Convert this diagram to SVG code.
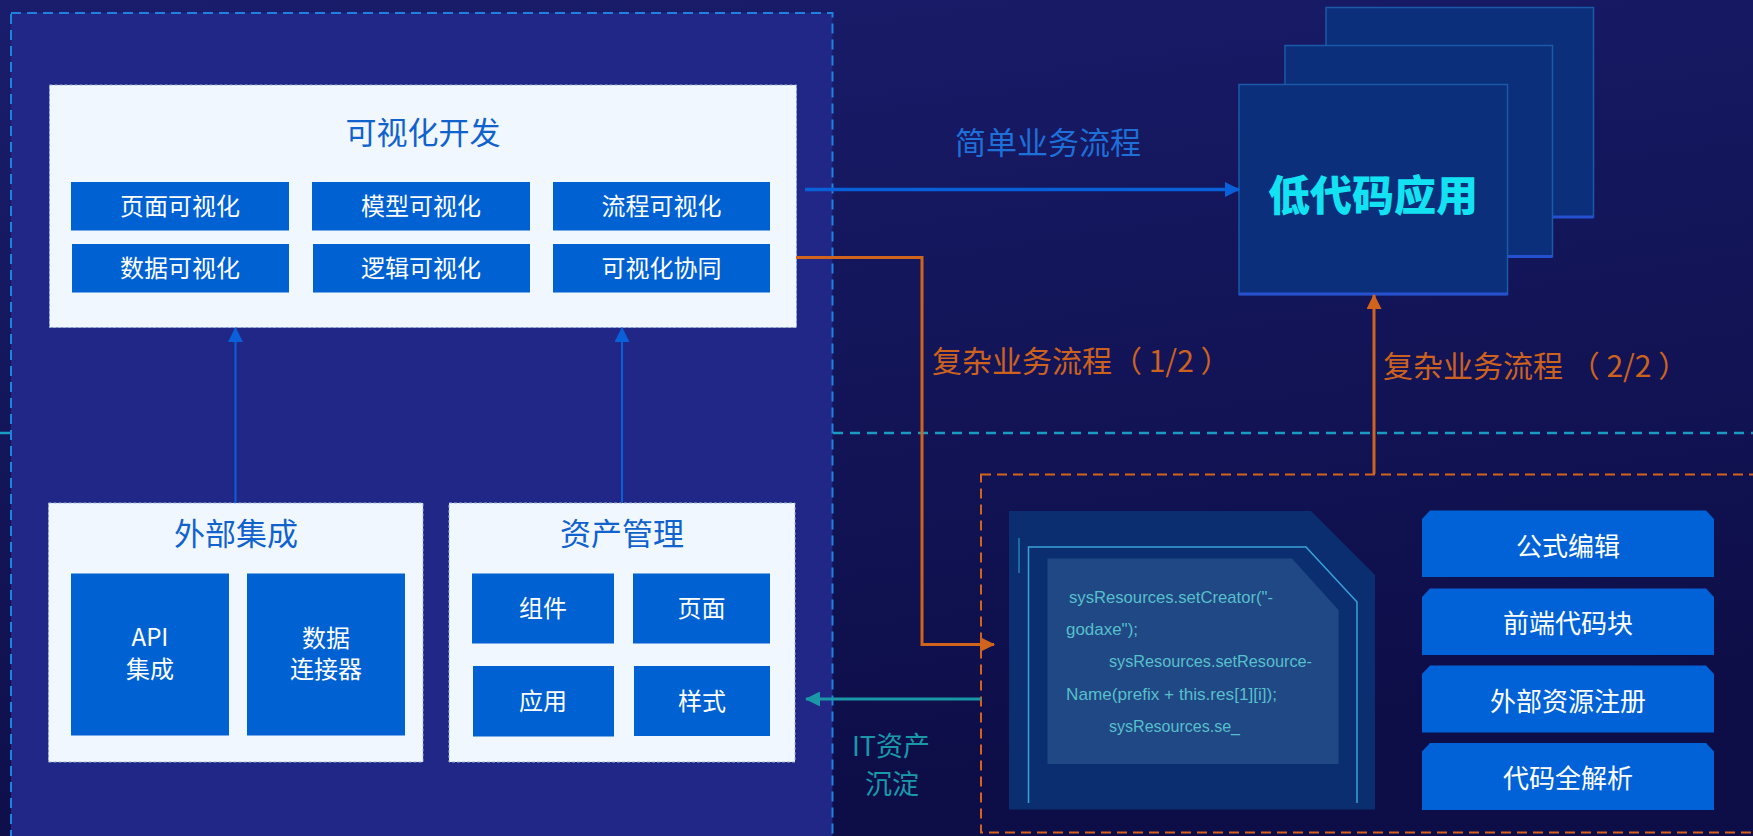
<svg xmlns="http://www.w3.org/2000/svg" width="1753" height="836" viewBox="0 0 1753 836">
<defs>
<linearGradient id="bg" x1="0" y1="0" x2="0.3" y2="1">
<stop offset="0" stop-color="#1a1d6c"/>
<stop offset="1" stop-color="#0d0e48"/>
</linearGradient>
<marker id="ahBlue" markerWidth="10" markerHeight="10" refX="9" refY="5" orient="auto" markerUnits="userSpaceOnUse" viewBox="0 0 10 10">
<path d="M0,0 L10,5 L0,10 z" fill="#0a60d8"/>
</marker>
<marker id="ahBlue2" markerWidth="15" markerHeight="15" refX="14" refY="7.5" orient="auto" markerUnits="userSpaceOnUse" viewBox="0 0 15 15">
<path d="M0,0 L15,7.5 L0,15 z" fill="#0a60d8"/>
</marker>
<marker id="ahOrange" markerWidth="15" markerHeight="15" refX="14" refY="7.5" orient="auto" markerUnits="userSpaceOnUse" viewBox="0 0 15 15">
<path d="M0,0 L15,7.5 L0,15 z" fill="#d0641c"/>
</marker>
<marker id="ahTeal" markerWidth="15" markerHeight="15" refX="14" refY="7.5" orient="auto" markerUnits="userSpaceOnUse" viewBox="0 0 15 15">
<path d="M0,0 L15,7.5 L0,15 z" fill="#1b98a8"/>
</marker>
</defs>
<style>
.cjk{font-family:"Noto Sans CJK SC","Liberation Sans",sans-serif;}
.panel{fill:#f1f7fe;stroke:#9db4d8;stroke-width:1;stroke-dasharray:3 2;}
.btn{fill:#0062d2;}
.btxt{fill:#ffffff;font-size:24px;text-anchor:middle;}
.ttl{fill:#1062cc;font-size:31px;text-anchor:middle;}
.card{fill:#0b2f7b;stroke:#1a5aa8;stroke-width:1.5;}
.cardb{stroke:#2550d0;stroke-width:3;}
.rbtn{fill:#0062d6;}
.rtxt{fill:#ffffff;font-size:26px;text-anchor:middle;}
.code{fill:#58bfcc;font-family:"Liberation Sans",sans-serif;font-size:17px;}
.otxt{fill:#cc621e;font-size:30px;}
</style>
<rect x="0" y="0" width="1753" height="836" fill="url(#bg)"/>
<line x1="0" y1="433" x2="1753" y2="433" stroke="#1a9cc2" stroke-width="2.5" stroke-dasharray="10 7"/>

<g id="platform">
<rect x="11" y="13" width="821.5" height="840" fill="#202787" stroke="#1e82de" stroke-width="2" stroke-dasharray="10 6"/>
</g>

<g id="visual-dev">
<rect class="panel" x="49.5" y="85" width="747" height="242.5"/>
<text class="cjk ttl" x="423" y="144">可视化开发</text>
<rect class="btn" x="71" y="182" width="218" height="48.5"/>
<rect class="btn" x="312" y="182" width="218" height="48.5"/>
<rect class="btn" x="553" y="182" width="217" height="48.5"/>
<rect class="btn" x="72" y="244" width="217" height="48.5"/>
<rect class="btn" x="313" y="244" width="217" height="48.5"/>
<rect class="btn" x="553" y="244" width="217" height="48.5"/>
<text class="cjk btxt" x="180" y="215">页面可视化</text>
<text class="cjk btxt" x="421" y="215">模型可视化</text>
<text class="cjk btxt" x="661.5" y="215">流程可视化</text>
<text class="cjk btxt" x="180" y="277">数据可视化</text>
<text class="cjk btxt" x="421" y="277">逻辑可视化</text>
<text class="cjk btxt" x="661.5" y="277">可视化协同</text>
</g>

<g id="ext-integration">
<rect class="panel" x="48.5" y="503" width="374.5" height="259"/>
<text class="cjk ttl" x="236" y="545">外部集成</text>
<rect class="btn" x="71" y="573.5" width="158" height="162"/>
<rect class="btn" x="247" y="573.5" width="158" height="162"/>
<text class="cjk btxt" x="150" y="646">API</text>
<text class="cjk btxt" x="150" y="678">集成</text>
<text class="cjk btxt" x="326" y="647">数据</text>
<text class="cjk btxt" x="326" y="678">连接器</text>
</g>

<g id="asset-mgmt">
<rect class="panel" x="449" y="503" width="346" height="259"/>
<text class="cjk ttl" x="622" y="545">资产管理</text>
<rect class="btn" x="472" y="573.5" width="142" height="70"/>
<rect class="btn" x="633" y="573.5" width="137" height="70"/>
<rect class="btn" x="473" y="666" width="141" height="70.5"/>
<rect class="btn" x="634" y="666" width="136" height="70"/>
<text class="cjk btxt" x="543" y="617">组件</text>
<text class="cjk btxt" x="701.5" y="617">页面</text>
<text class="cjk btxt" x="543" y="710">应用</text>
<text class="cjk btxt" x="702" y="710">样式</text>
</g>

<g id="lowcode-app">
<rect class="card" x="1326" y="7.5" width="267.5" height="209.5"/>
<line class="cardb" x1="1326" y1="217" x2="1593.5" y2="217"/>
<rect class="card" x="1285" y="45.5" width="267.5" height="211"/>
<line class="cardb" x1="1285" y1="256.5" x2="1552.5" y2="256.5"/>
<rect class="card" x="1239" y="84.5" width="268.5" height="210"/>
<line class="cardb" x1="1239" y1="294" x2="1507.5" y2="294"/>
<text class="cjk" x="1373" y="211" fill="#12e2f2" font-size="42" font-weight="900" text-anchor="middle">低代码应用</text>
</g>

<g id="code-area">
<rect x="981" y="474.5" width="790" height="358" fill="none" stroke="#d4631c" stroke-width="2" stroke-dasharray="10 6"/>
<path d="M1009,511 L1311,511 L1375,575 L1375,809.5 L1009,809.5 Z" fill="#0a2e70"/>
<path d="M1028.5,803 L1028.5,547 L1306,547 L1357,602 L1357,803" fill="none" stroke="#3aa2d8" stroke-width="1.5"/>
<line x1="1019" y1="538" x2="1019" y2="573" stroke="#3aa2d8" stroke-width="1"/>
<path d="M1047.5,558.5 L1292,558.5 L1338.5,610 L1338.5,764 L1047.5,764 Z" fill="#1f4884"/>
<text class="code" x="1069" y="603" textLength="204" lengthAdjust="spacingAndGlyphs">sysResources.setCreator("-</text>
<text class="code" x="1066" y="635" textLength="72" lengthAdjust="spacingAndGlyphs">godaxe");</text>
<text class="code" x="1109" y="667" textLength="203" lengthAdjust="spacingAndGlyphs">sysResources.setResource-</text>
<text class="code" x="1066" y="700" textLength="211" lengthAdjust="spacingAndGlyphs">Name(prefix + this.res[1][i]);</text>
<text class="code" x="1109" y="732" textLength="131" lengthAdjust="spacingAndGlyphs">sysResources.se_</text>
</g>

<g id="btn-formula">
<path class="rbtn" d="M1422,519 L1430,510.5 L1706,510.5 L1714,519 L1714,577 L1422,577 Z"/>
<text class="cjk rtxt" x="1568" y="556">公式编辑</text>
</g>
<g id="btn-frontend">
<path class="rbtn" d="M1422,597 L1430,588.5 L1706,588.5 L1714,597 L1714,655 L1422,655 Z"/>
<text class="cjk rtxt" x="1568" y="633">前端代码块</text>
</g>
<g id="btn-extres">
<path class="rbtn" d="M1422,674 L1430,665.5 L1706,665.5 L1714,674 L1714,732.5 L1422,732.5 Z"/>
<text class="cjk rtxt" x="1568" y="711">外部资源注册</text>
</g>
<g id="btn-parse">
<path class="rbtn" d="M1422,751.5 L1430,743 L1706,743 L1714,751.5 L1714,810 L1422,810 Z"/>
<text class="cjk rtxt" x="1568" y="788">代码全解析</text>
</g>

<g id="connectors">
<line x1="235.5" y1="503" x2="235.5" y2="328" stroke="#0a60d8" stroke-width="2" marker-end="url(#ahBlue2)"/>
<line x1="622" y1="503" x2="622" y2="328" stroke="#0a60d8" stroke-width="2" marker-end="url(#ahBlue2)"/>
<line x1="805" y1="189.5" x2="1239" y2="189.5" stroke="#0a60d8" stroke-width="3.5" marker-end="url(#ahBlue2)"/>
<path d="M796,257.5 L922,257.5 L922,644.5 L994,644.5" fill="none" stroke="#d0641c" stroke-width="3" marker-end="url(#ahOrange)"/>
<line x1="1374" y1="474" x2="1374" y2="295" stroke="#d0641c" stroke-width="3" marker-end="url(#ahOrange)"/>
<line x1="981" y1="699" x2="806" y2="699" stroke="#1b98a8" stroke-width="3" marker-end="url(#ahTeal)"/>
<text class="cjk" x="955" y="154" fill="#1e6fd8" font-size="31">简单业务流程</text>
<text class="cjk otxt" x="932" y="372">复杂业务流程（ 1/2 ）</text>
<text class="cjk otxt" x="1383" y="377">复杂业务流程 （ 2/2 ）</text>
<text class="cjk" x="891" y="756" fill="#1b98a8" font-size="27" text-anchor="middle">IT资产</text>
<text class="cjk" x="892" y="794" fill="#1b98a8" font-size="27" text-anchor="middle">沉淀</text>
</g>
</svg>
